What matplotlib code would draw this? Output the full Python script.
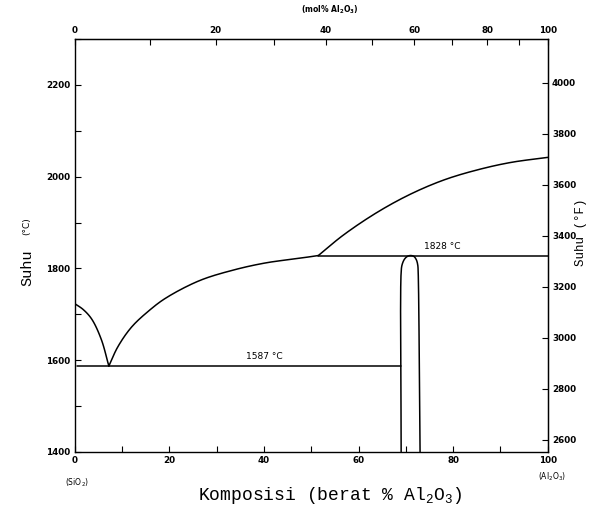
import numpy as np
import matplotlib
matplotlib.use("Agg")
import matplotlib.pyplot as plt

# ---- data (wt% Al2O3, temperature in °C) ----
liq_sio2_x = [0, 1.8, 3.6, 5.6, 7.2]
liq_sio2_t = [1723, 1710, 1689, 1645, 1587]

liq_mid_x = [7.2, 9.1, 12.0, 15.6, 19.2, 26.3, 33.4, 40.4, 47.5, 51.5]
liq_mid_t = [1587, 1629, 1672, 1707, 1735, 1773, 1796, 1812, 1822, 1828]

liq_al_x = [51.5, 56.7, 63.9, 71.0, 78.1, 85.2, 92.2, 100]
liq_al_t = [1828, 1872, 1922, 1962, 1993, 2015, 2031, 2042]

eut_x = [0.5, 69.0]
eut_t = [1587, 1587]

per_x = [51.5, 100]
per_t = [1828, 1828]

mull_x = [69.0, 69.0, 69.2, 69.7, 70.3, 71.0, 71.7, 72.2, 72.5, 72.6, 73.0]
mull_t = [1400, 1792, 1808, 1820, 1826, 1828, 1826, 1819, 1808, 1792, 1400]

xticks_major = [0, 20, 40, 60, 80, 100]
xticks_minor = [10, 30, 50, 70, 90]
yticks_major = [1400, 1600, 1800, 2000, 2200]
yticks_minor = [1500, 1700, 1900, 2100, 2300]
fticks = [2600, 2800, 3000, 3200, 3400, 3600, 3800, 4000]
molticks = [0, 10, 20, 30, 40, 50, 60, 70, 80, 90, 100]
mollabels = ["0", "", "20", "", "40", "", "60", "", "80", "", "100"]

M_AL, M_SI = 101.96, 60.08


def wt2mol(w):
    w = np.clip(np.asarray(w, dtype=float), 0, 100)
    a = w / M_AL
    s = (100 - w) / M_SI
    return 100 * a / np.maximum(a + s, 1e-12)


def mol2wt(m):
    m = np.clip(np.asarray(m, dtype=float), 0, 100)
    a = m * M_AL
    s = (100 - m) * M_SI
    return 100 * a / np.maximum(a + s, 1e-12)


def c2f(c):
    return np.asarray(c) * 9 / 5 + 32


def f2c(f):
    return (np.asarray(f) - 32) * 5 / 9


fig = plt.figure(figsize=(5.89, 5.14), dpi=100)
ax = fig.add_axes([0.127, 0.121, 0.803, 0.803])


def smooth_plot(ax, xs, ys, **kw):
    """Draw a smooth line through the given points (centripetal Catmull-Rom
    computed in display space), a rendering choice only."""
    pts = ax.transData.transform(np.column_stack([xs, ys]))
    p = np.vstack([2 * pts[0] - pts[1], pts, 2 * pts[-1] - pts[-2]])
    out = []
    for i in range(1, len(p) - 2):
        p0, p1, p2, p3 = p[i - 1], p[i], p[i + 1], p[i + 2]
        def tj(ti, a, b):
            return ti + max(np.linalg.norm(b - a), 1e-6) ** 0.5
        t0 = 0.0
        t1 = tj(t0, p0, p1)
        t2 = tj(t1, p1, p2)
        t3 = tj(t2, p2, p3)
        t = np.linspace(t1, t2, 20)[:, None]
        a1 = (t1 - t) / (t1 - t0) * p0 + (t - t0) / (t1 - t0) * p1
        a2 = (t2 - t) / (t2 - t1) * p1 + (t - t1) / (t2 - t1) * p2
        a3 = (t3 - t) / (t3 - t2) * p2 + (t - t2) / (t3 - t2) * p3
        b1 = (t2 - t) / (t2 - t0) * a1 + (t - t0) / (t2 - t0) * a2
        b2 = (t3 - t) / (t3 - t1) * a2 + (t - t1) / (t3 - t1) * a3
        c = (t2 - t) / (t2 - t1) * b1 + (t - t1) / (t2 - t1) * b2
        out.append(c if i == 1 else c[1:])
    disp = np.vstack(out)
    data = ax.transData.inverted().transform(disp)
    ax.plot(data[:, 0], data[:, 1], **kw)


ax.set_xlim(0, 100)
ax.set_ylim(1400, 2300)

lw = 1.1
line_kw = dict(color="black", lw=lw, solid_capstyle="round")
smooth_plot(ax, liq_sio2_x, liq_sio2_t, **line_kw)
smooth_plot(ax, liq_mid_x, liq_mid_t, **line_kw)
smooth_plot(ax, liq_al_x, liq_al_t, **line_kw)
ax.plot(eut_x, eut_t, **line_kw)
ax.plot(per_x, per_t, **line_kw)
smooth_plot(ax, mull_x, mull_t, **line_kw)

ax.set_xlim(0, 100)
ax.set_ylim(1400, 2300)

tick_font = dict(fontsize=6.3, family="DejaVu Sans", fontweight="bold")
ax.set_xticks(xticks_major)
ax.set_xticks(xticks_minor, minor=True)
ax.set_yticks(yticks_major)
ax.set_yticks(yticks_minor, minor=True)
ax.set_xticklabels([str(v) for v in xticks_major], **tick_font)
ax.set_yticklabels([str(v) for v in yticks_major], **tick_font)
ax.tick_params(which="both", direction="in", length=4, width=0.8)
ax.tick_params(axis="x", which="both", pad=3)
ax.tick_params(axis="y", which="both", pad=3)

for sp in ax.spines.values():
    sp.set_linewidth(1.0)

# right axis (°F)
rax = ax.secondary_yaxis("right", functions=(c2f, f2c))
rax.set_yticks(fticks)
rax.set_yticklabels([str(v) for v in fticks], **tick_font)
rax.tick_params(direction="in", length=4, width=0.8, pad=3)

# top axis (mol%)
tax = ax.secondary_xaxis("top", functions=(wt2mol, mol2wt))
tax.set_xticks(molticks)
tax.set_xticklabels(mollabels, **tick_font)
tax.tick_params(direction="in", length=4, width=0.8, pad=3)

# annotations
ax.text(40, 1607, "1587 °C", fontsize=6.5, ha="center", va="center")
ax.text(77.7, 1847, "1828 °C", fontsize=6.5, ha="center", va="center")

ax.text(0.005, -0.075, r"(SiO$_\mathregular{2}$)", transform=ax.transAxes,
        fontsize=5.5, ha="center", va="center")
ax.text(1.01, -0.06, r"(Al$_\mathregular{2}$O$_\mathregular{3}$)", transform=ax.transAxes,
        fontsize=5.5, ha="center", va="center")
ax.text(0.54, 1.07, r"(mol% Al$_\mathregular{2}$O$_\mathregular{3}$)", transform=ax.transAxes,
        fontsize=5.5, ha="center", va="center", fontweight="bold")

mono = "Liberation Mono"
fig.text(27 / 589, 1 - 268 / 514, "Suhu", rotation=90, family=mono,
         fontsize=11, ha="center", va="center")
fig.text(27 / 589, 1 - 226 / 514, "(°C)", rotation=90,
         fontsize=6.5, ha="center", va="center")
fig.text(581 / 589, 1 - 232 / 514, "Suhu (°F)", rotation=90, family=mono,
         fontsize=9, ha="center", va="center")

fig.text(330 / 589, 1 - 496 / 514,
         r"Komposisi (berat % Al$_\mathregular{2}$O$_\mathregular{3}$)",
         family=mono, fontsize=13, ha="center", va="center")

fig.savefig("out.png", dpi=100, facecolor="white")
